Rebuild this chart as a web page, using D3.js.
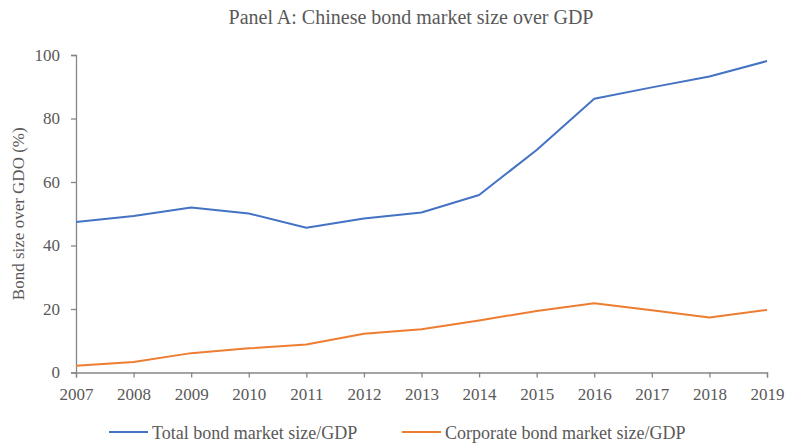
<!DOCTYPE html>
<html>
<head>
<meta charset="utf-8">
<script src="https://cdn.jsdelivr.net/npm/d3@7"></script>
<style>
  html, body { margin: 0; padding: 0; background: #fff; }
  svg { display: block; }
</style>
</head>
<body>
<svg id="chart" width="786" height="446"></svg>
<script>
// Bond market size relative to GDP, China, 2007–2019 (%)
const years = [2007, 2008, 2009, 2010, 2011, 2012, 2013, 2014, 2015, 2016, 2017, 2018, 2019];
const totalBond = [47.4, 49.3, 52.0, 50.1, 45.6, 48.5, 50.4, 55.9, 70.1, 86.2, 89.8, 93.2, 98.1];
const corporateBond = [2.1, 3.3, 6.1, 7.6, 8.8, 12.2, 13.6, 16.4, 19.4, 21.8, 19.6, 17.3, 19.7];
const yTicks = [0, 20, 40, 60, 80, 100];
const seriesNames = ["Total bond market size/GDP", "Corporate bond market size/GDP"];
const seriesColors = ["#4472C4", "#ED7D31"];

const svg = d3.select("#chart");
const font = "'Liberation Serif', 'Times New Roman', serif";
const textColor = "#595959";
const axisColor = "#868686";

const x = d3.scaleLinear().domain([years[0], years[years.length - 1]]).range([76, 767]);
const y = d3.scaleLinear().domain([0, 100]).range([372.5, 55]);

// Title
svg.append("text")
  .attr("x", 411).attr("y", 24)
  .attr("text-anchor", "middle")
  .attr("font-family", font).attr("font-size", 20)
  .attr("fill", textColor)
  .text("Panel A: Chinese bond market size over GDP");

// Y axis
const yAxis = svg.append("g")
  .attr("transform", `translate(${x.range()[0]},0)`)
  .call(d3.axisLeft(y).tickValues(yTicks).tickSize(5).tickPadding(11));
// X axis
const xAxis = svg.append("g")
  .attr("transform", `translate(0,${y(0)})`)
  .call(d3.axisBottom(x).tickValues(years).tickFormat(d3.format("d")).tickSize(5).tickPadding(10));

[yAxis, xAxis].forEach(g => {
  g.attr("font-family", font);
  g.selectAll("path, line").attr("stroke", axisColor).attr("stroke-width", 1.3);
  g.selectAll("text").attr("font-family", font).attr("font-size", 17).attr("fill", textColor);
});

// Y axis title
svg.append("text")
  .attr("transform", `translate(24,${(y(0) + y(100)) / 2}) rotate(-90)`)
  .attr("text-anchor", "middle")
  .attr("font-family", font).attr("font-size", 17)
  .attr("fill", textColor)
  .text("Bond size over GDO (%)");

// Series lines
const line = d3.line().x((d, i) => x(years[i])).y(d => y(d));
[totalBond, corporateBond].forEach((vals, k) => {
  svg.append("path")
    .datum(vals)
    .attr("fill", "none")
    .attr("stroke", seriesColors[k])
    .attr("stroke-width", 2)
    .attr("stroke-linejoin", "round")
    .attr("d", line);
});

// Legend
const legendPos = [109, 402];
seriesNames.forEach((name, k) => {
  const g = svg.append("g").attr("transform", `translate(${legendPos[k]},432)`);
  g.append("line").attr("x1", 0).attr("x2", 39).attr("y1", 0).attr("y2", 0)
    .attr("stroke", seriesColors[k]).attr("stroke-width", 2);
  g.append("text").attr("x", 43).attr("y", 7)
    .attr("font-family", font).attr("font-size", 18)
    .attr("fill", textColor)
    .text(name);
});
</script>
</body>
</html>
